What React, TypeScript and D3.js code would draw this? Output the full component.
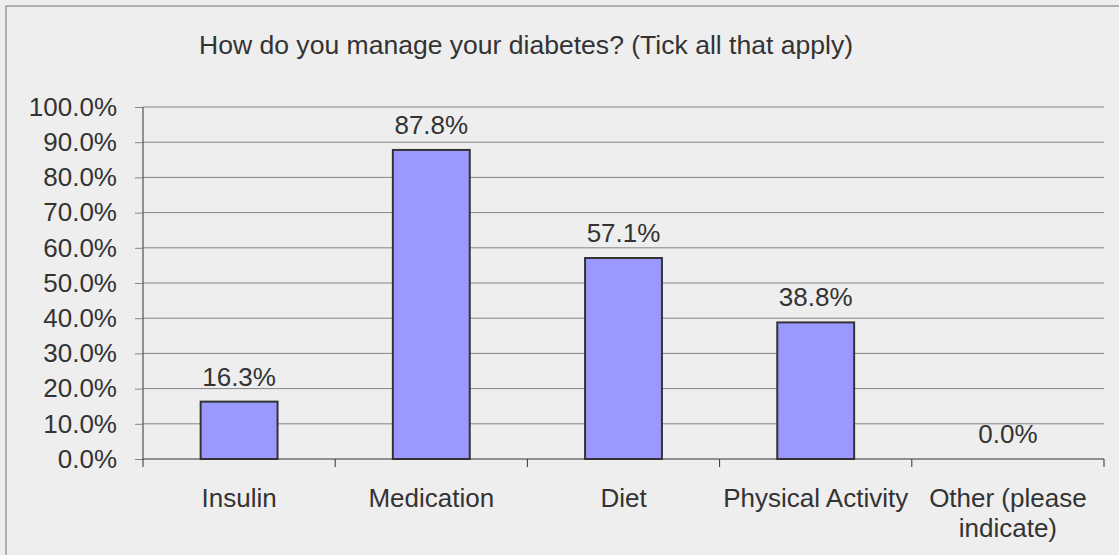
import { useEffect, useRef } from 'react';
import * as d3 from 'd3';

const categories = ['Insulin', 'Medication', 'Diet', 'Physical Activity', 'Other (please\nindicate)'];
const values = [16.3, 87.8, 57.1, 38.8, 0.0];
const yTicks = [0, 10, 20, 30, 40, 50, 60, 70, 80, 90, 100];
const title = 'How do you manage your diabetes? (Tick all that apply)';

export default function App() {
  const svgRef = useRef<SVGSVGElement>(null);
  const width = 1119;
  const height = 555;

  useEffect(() => {
    if (!svgRef.current) return;
    const svg = d3.select(svgRef.current);
    svg.selectAll('*').remove();

    const font = '"Liberation Sans", Arial, sans-serif';
    const textColor = '#333333';
    const left = 143;
    const right = 1104;
    const top = 107;
    const bottom = 459;

    // background + frame (only top/left edges are visible in the crop)
    svg.append('rect').attr('width', width).attr('height', height).attr('fill', '#eeeeee');
    svg.append('path')
      .attr('d', `M6,${height} V6 H${width}`)
      .attr('fill', 'none')
      .attr('stroke', '#9a9a9a')
      .attr('stroke-width', 1.5);

    svg.append('text')
      .attr('x', 199)
      .attr('y', 54)
      .attr('textLength', 654)
      .attr('lengthAdjust', 'spacingAndGlyphs')
      .style('font-family', font)
      .style('font-size', '25px')
      .style('fill', textColor)
      .text(title);

    const xScale = d3.scaleBand().domain(categories).range([left, right]).padding(0);
    const yScale = d3.scaleLinear().domain([0, 100]).range([bottom, top]);

    // gridlines
    svg.append('g')
      .selectAll('line')
      .data(yTicks.filter(t => t > 0))
      .join('line')
      .attr('x1', left)
      .attr('x2', right)
      .attr('y1', d => yScale(d))
      .attr('y2', d => yScale(d))
      .attr('stroke', '#858585')
      .attr('stroke-width', 1);

    // y axis
    const yAxis = svg.append('g')
      .attr('transform', `translate(${left},0)`)
      .call(
        d3.axisLeft(yScale)
          .tickValues(yTicks)
          .tickSize(8)
          .tickPadding(18)
          .tickFormat(d => `${(+d).toFixed(1)}%`)
      );
    yAxis.select('.domain').attr('stroke', '#333').attr('d', `M0,${top}V${bottom}`);
    yAxis.selectAll('.tick line').attr('stroke', '#858585');
    yAxis.selectAll('text')
      .style('font-family', font)
      .style('font-size', '26px')
      .style('fill', textColor);

    // bars
    const barW = xScale.bandwidth() * 0.4;
    svg.append('g')
      .selectAll('rect')
      .data(values.map((v, i) => ({ v, c: categories[i] })))
      .join('rect')
      .attr('x', d => (xScale(d.c) || 0) + (xScale.bandwidth() - barW) / 2)
      .attr('y', d => yScale(d.v))
      .attr('width', barW)
      .attr('height', d => bottom - yScale(d.v))
      .attr('fill', '#9999ff')
      .attr('stroke', '#333333')
      .attr('stroke-width', d => (d.v > 0 ? 2 : 0));

    // value labels
    svg.append('g')
      .selectAll('text')
      .data(values.map((v, i) => ({ v, c: categories[i] })))
      .join('text')
      .attr('x', d => (xScale(d.c) || 0) + xScale.bandwidth() / 2)
      .attr('y', d => yScale(d.v) - 16)
      .attr('text-anchor', 'middle')
      .style('font-family', font)
      .style('font-size', '26px')
      .style('fill', textColor)
      .text(d => `${d.v.toFixed(1)}%`);

    // x axis line + boundary ticks
    svg.append('line')
      .attr('x1', left).attr('x2', right)
      .attr('y1', bottom).attr('y2', bottom)
      .attr('stroke', '#333').attr('stroke-width', 1);
    const bounds = [...categories.map(c => xScale(c) || 0), right];
    svg.append('g')
      .selectAll('line')
      .data(bounds)
      .join('line')
      .attr('x1', d => d).attr('x2', d => d)
      .attr('y1', bottom).attr('y2', bottom + 8)
      .attr('stroke', '#333');

    // category labels
    const labels = svg.append('g')
      .selectAll('text')
      .data(categories)
      .join('text')
      .attr('x', d => (xScale(d) || 0) + xScale.bandwidth() / 2)
      .attr('y', 507)
      .attr('text-anchor', 'middle')
      .style('font-family', font)
      .style('font-size', '26px')
      .style('fill', textColor);
    labels.each(function (d) {
      const t = d3.select(this);
      const cx = t.attr('x');
      d.split('\n').forEach((line, i) => {
        t.append('tspan').attr('x', cx).attr('dy', i === 0 ? 0 : 30).text(line);
      });
    });
  }, []);

  return (
    <svg
      ref={svgRef}
      width={width}
      height={height}
      style={{ position: 'absolute', left: 0, top: 0, display: 'block' }}
    />
  );
}
